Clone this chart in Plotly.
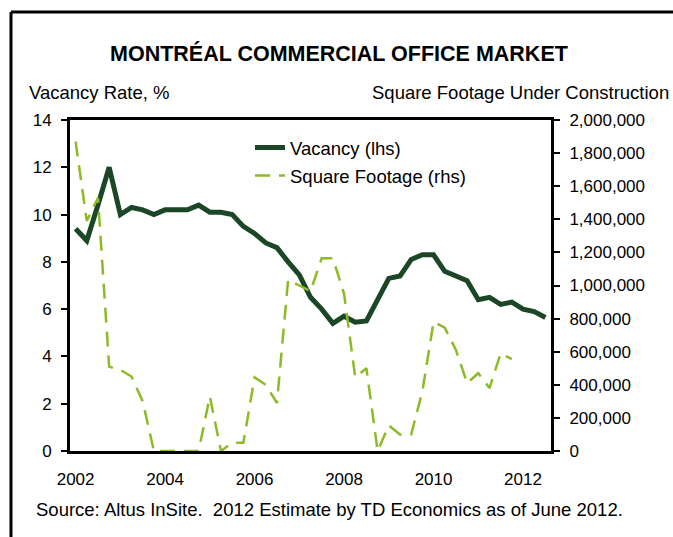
import plotly.graph_objects as go

# Quarterly data, 2002Q1 onward
start_year = 2002
vacancy = [9.4, 8.9, 10.4, 12.0, 10.0, 10.3, 10.2, 10.0, 10.2, 10.2,
           10.2, 10.4, 10.1, 10.1, 10.0, 9.5, 9.2, 8.8, 8.6, 8.0,
           7.45, 6.5, 6.0, 5.4, 5.7, 5.45, 5.5, 6.4, 7.3, 7.4,
           8.1, 8.3, 8.3, 7.6, 7.4, 7.2, 6.4, 6.5, 6.2, 6.3,
           6.0, 5.9, 5.65]
sq_footage = [1870000, 1390000, 1530000, 510000, 490000, 450000, 300000, 0, 0, 0,
              0, 0, 330000, 0, 50000, 50000, 445000, 400000, 290000, 1035000,
              1000000, 965000, 1165000, 1165000, 950000, 445000, 500000, 0, 155000, 100000,
              100000, 360000, 780000, 745000, 610000, 410000, 470000, 380000, 590000, 555000]
x_ticks = [2002, 2004, 2006, 2008, 2010, 2012]

x_vac = [start_year + i * 0.25 for i in range(len(vacancy))]
x_sq = [start_year + i * 0.25 for i in range(len(sq_footage))]

FONT = "Liberation Sans, Arial, sans-serif"
DARK = "#1B4726"
LIGHT = "#8CBB26"

fig = go.Figure()
fig.add_trace(go.Scatter(x=x_vac, y=vacancy, name="Vacancy (lhs)", mode="lines",
                         line=dict(color=DARK, width=5), legendgroup="a"))
fig.add_trace(go.Scatter(x=x_sq, y=sq_footage, name="Square Footage (rhs)", mode="lines",
                         line=dict(color=LIGHT, width=2.5, dash="15px,9px"),
                         yaxis="y2", legendgroup="b"))

L, R, T, B = 70, 122, 120, 86
W, H = 673, 537
pw, ph = W - L - R, H - T - B

def px(x):
    return (x - L) / pw

def py(y):
    return (H - B - y) / ph

TXT = 18.5

fig.update_layout(
    width=W, height=H,
    margin=dict(l=L, r=R, t=T, b=B),
    paper_bgcolor="white", plot_bgcolor="white",
    font=dict(family=FONT, size=17, color="black"),
    showlegend=True,
    legend=dict(x=px(250), y=py(129), xanchor="left", yanchor="top",
                bgcolor="rgba(0,0,0,0)", font=dict(size=TXT),
                traceorder="grouped", tracegroupgap=1),
    xaxis=dict(range=[start_year - 0.125, start_year + (len(vacancy) - 0.5) * 0.25],
               tickvals=x_ticks, ticktext=[str(v) for v in x_ticks],
               showgrid=False, zeroline=False, showline=True, linecolor="black",
               linewidth=3, mirror=True, ticks="", ticklabelstandoff=11),
    yaxis=dict(range=[0, 14], dtick=2, showgrid=False, zeroline=False,
               showline=True, linecolor="black", linewidth=3,
               ticks="outside", ticklen=6, tickwidth=2, tickcolor="black",
               ticklabelstandoff=6),
    yaxis2=dict(range=[0, 2000000], dtick=200000, tickformat=",", overlaying="y",
                side="right", showgrid=False, zeroline=False, showline=True,
                linecolor="black", linewidth=3, ticks="outside", ticklen=6,
                tickwidth=2, tickcolor="black", ticklabelstandoff=6),
    annotations=[
        dict(text="<b>MONTRÉAL COMMERCIAL OFFICE MARKET</b>", x=px(339), y=py(53),
             xref="paper", yref="paper", xanchor="center", yanchor="middle",
             showarrow=False, font=dict(size=21.5)),
        dict(text="Vacancy Rate, %", x=px(27), y=py(92), xref="paper", yref="paper",
             xanchor="left", yanchor="middle", showarrow=False, font=dict(size=TXT)),
        dict(text="Square Footage Under Construction", x=px(671), y=py(92),
             xref="paper", yref="paper", xanchor="right", yanchor="middle",
             showarrow=False, font=dict(size=TXT)),
        dict(text="Source: Altus InSite.  2012 Estimate by TD Economics as of June 2012.",
             x=px(34), y=py(509), xref="paper", yref="paper", xanchor="left",
             yanchor="middle", showarrow=False, font=dict(size=TXT)),
    ],
    shapes=[
        dict(type="line", xref="paper", yref="paper", x0=px(11), x1=px(11),
             y0=py(12), y1=py(545), line=dict(color="black", width=3)),
        dict(type="line", xref="paper", yref="paper", x0=px(11), x1=px(680),
             y0=py(12), y1=py(12), line=dict(color="black", width=3)),
    ],
)

fig.write_html("out.html", config={"displayModeBar": False},
               post_script="document.body.style.margin='0';")
